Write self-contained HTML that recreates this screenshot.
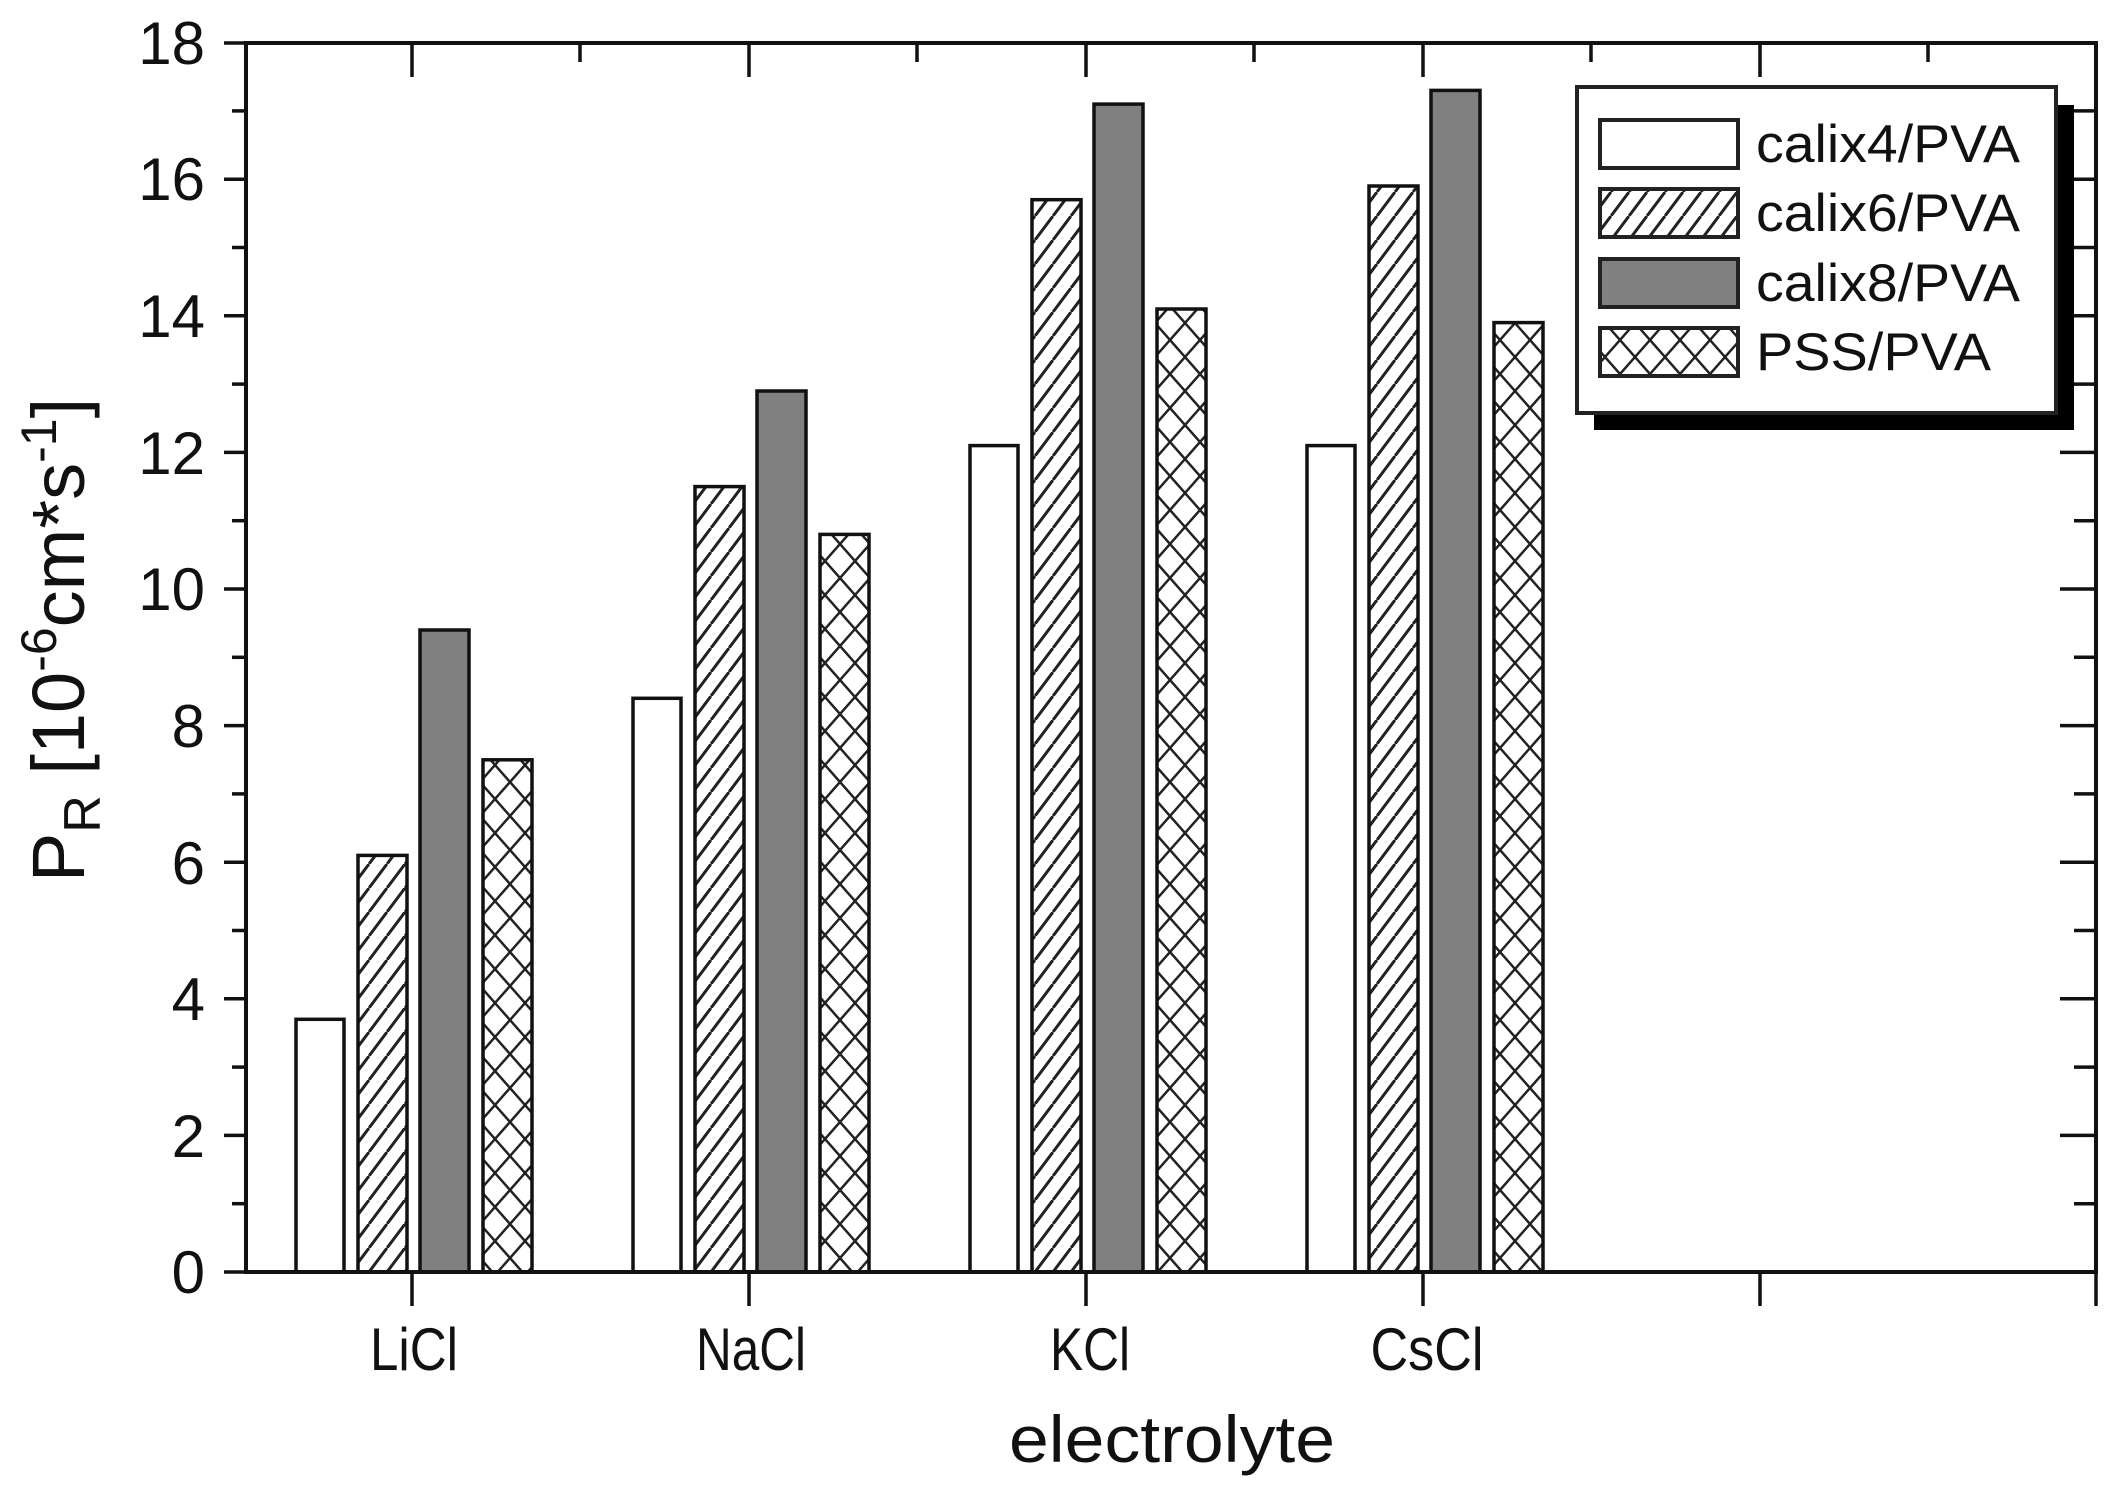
<!DOCTYPE html>
<html><head><meta charset="utf-8"><style>html,body{margin:0;padding:0;background:#fff}svg{display:block}</style></head>
<body>
<svg width="2122" height="1504" viewBox="0 0 2122 1504" xmlns="http://www.w3.org/2000/svg" font-family="Liberation Sans, Arial, sans-serif">
<defs>
<pattern id="hatch2" patternUnits="userSpaceOnUse" width="18" height="24" x="0" y="0">
<rect width="18" height="24" fill="#fff"/>
<line x1="-9" y1="24" x2="9" y2="0" stroke="#222" stroke-width="3"/>
<line x1="9" y1="24" x2="27" y2="0" stroke="#222" stroke-width="3"/>
</pattern>
<pattern id="cross" patternUnits="userSpaceOnUse" width="30" height="34">
<rect width="30" height="34" fill="#fff"/>
<line x1="0" y1="0" x2="30" y2="34" stroke="#222" stroke-width="2.5"/>
<line x1="30" y1="0" x2="0" y2="34" stroke="#222" stroke-width="2.5"/>
</pattern>
</defs>
<g stroke="#111" stroke-width="3.5">
<rect x="296" y="1019.3" width="48" height="252.7" fill="#fff"/>
<rect x="358" y="855.4" width="49" height="416.6" fill="url(#hatch2)"/>
<rect x="420" y="630" width="49" height="642" fill="#808080"/>
<rect x="483" y="759.8" width="49" height="512.2" fill="url(#cross)"/>
<rect x="633" y="698.3" width="48" height="573.7" fill="#fff"/>
<rect x="695" y="486.6" width="49" height="785.4" fill="url(#hatch2)"/>
<rect x="757" y="391" width="49" height="881" fill="#808080"/>
<rect x="820" y="534.4" width="49" height="737.6" fill="url(#cross)"/>
<rect x="970" y="445.6" width="48" height="826.4" fill="#fff"/>
<rect x="1032" y="199.7" width="49" height="1072.3" fill="url(#hatch2)"/>
<rect x="1094" y="104.1" width="49" height="1167.9" fill="#808080"/>
<rect x="1157" y="309" width="49" height="963" fill="url(#cross)"/>
<rect x="1307" y="445.6" width="48" height="826.4" fill="#fff"/>
<rect x="1369" y="186" width="49" height="1086" fill="url(#hatch2)"/>
<rect x="1431" y="90.4" width="49" height="1181.6" fill="#808080"/>
<rect x="1494" y="322.6" width="49" height="949.4" fill="url(#cross)"/>
</g>
<g stroke="#111" stroke-width="4" fill="none">
<rect x="246" y="43" width="1850" height="1229"/>
</g>
<g stroke="#111" stroke-width="3.5">
<line x1="224" y1="1272" x2="246" y2="1272"/><line x1="232" y1="1203.7" x2="246" y2="1203.7"/>
<line x1="224" y1="1135.4" x2="246" y2="1135.4"/><line x1="232" y1="1067.1" x2="246" y2="1067.1"/>
<line x1="224" y1="998.8" x2="246" y2="998.8"/><line x1="232" y1="930.5" x2="246" y2="930.5"/>
<line x1="224" y1="862.2" x2="246" y2="862.2"/><line x1="232" y1="793.9" x2="246" y2="793.9"/>
<line x1="224" y1="725.6" x2="246" y2="725.6"/><line x1="232" y1="657.3" x2="246" y2="657.3"/>
<line x1="224" y1="589" x2="246" y2="589"/><line x1="232" y1="520.7" x2="246" y2="520.7"/>
<line x1="224" y1="452.4" x2="246" y2="452.4"/><line x1="232" y1="384.1" x2="246" y2="384.1"/>
<line x1="224" y1="315.8" x2="246" y2="315.8"/><line x1="232" y1="247.5" x2="246" y2="247.5"/>
<line x1="224" y1="179.2" x2="246" y2="179.2"/><line x1="232" y1="110.9" x2="246" y2="110.9"/>
<line x1="224" y1="43" x2="246" y2="43"/>
<line x1="2074" y1="1203.7" x2="2096" y2="1203.7"/><line x1="2074" y1="1067.1" x2="2096" y2="1067.1"/>
<line x1="2074" y1="930.5" x2="2096" y2="930.5"/><line x1="2074" y1="793.9" x2="2096" y2="793.9"/>
<line x1="2074" y1="657.3" x2="2096" y2="657.3"/><line x1="2074" y1="520.7" x2="2096" y2="520.7"/>
<line x1="2074" y1="384.1" x2="2096" y2="384.1"/><line x1="2074" y1="247.5" x2="2096" y2="247.5"/>
<line x1="2074" y1="110.9" x2="2096" y2="110.9"/>
<line x1="2060" y1="1135.4" x2="2096" y2="1135.4"/><line x1="2060" y1="998.8" x2="2096" y2="998.8"/>
<line x1="2060" y1="862.2" x2="2096" y2="862.2"/><line x1="2060" y1="725.6" x2="2096" y2="725.6"/>
<line x1="2060" y1="589" x2="2096" y2="589"/><line x1="2060" y1="452.4" x2="2096" y2="452.4"/>
<line x1="2060" y1="315.8" x2="2096" y2="315.8"/><line x1="2060" y1="179.2" x2="2096" y2="179.2"/>
<line x1="412" y1="1272" x2="412" y2="1306"/><line x1="749" y1="1272" x2="749" y2="1306"/>
<line x1="1086" y1="1272" x2="1086" y2="1306"/><line x1="1423" y1="1272" x2="1423" y2="1306"/>
<line x1="1760" y1="1272" x2="1760" y2="1306"/><line x1="2096" y1="1272" x2="2096" y2="1306"/>
<line x1="412" y1="43" x2="412" y2="77"/><line x1="580" y1="43" x2="580" y2="62"/>
<line x1="749" y1="43" x2="749" y2="77"/><line x1="917" y1="43" x2="917" y2="62"/>
<line x1="1086" y1="43" x2="1086" y2="77"/><line x1="1254" y1="43" x2="1254" y2="62"/>
<line x1="1423" y1="43" x2="1423" y2="77"/><line x1="1591" y1="43" x2="1591" y2="62"/>
<line x1="1760" y1="43" x2="1760" y2="77"/><line x1="1928" y1="43" x2="1928" y2="62"/>
</g>
<g font-size="60" text-anchor="end" fill="#111">
<text x="205" y="1293">0</text><text x="205" y="1157">2</text><text x="205" y="1020">4</text>
<text x="205" y="884">6</text><text x="205" y="747">8</text><text x="205" y="610">10</text>
<text x="205" y="474">12</text><text x="205" y="337">14</text><text x="205" y="200">16</text>
<text x="205" y="64">18</text>
</g>
<g font-size="60" text-anchor="middle" fill="#111">
<text x="414" y="1370" textLength="88" lengthAdjust="spacingAndGlyphs">LiCl</text>
<text x="751" y="1370" textLength="110" lengthAdjust="spacingAndGlyphs">NaCl</text>
<text x="1090" y="1370" textLength="80" lengthAdjust="spacingAndGlyphs">KCl</text>
<text x="1427" y="1370" textLength="113" lengthAdjust="spacingAndGlyphs">CsCl</text>
</g>
<text x="1172" y="1462" font-size="66" text-anchor="middle" fill="#111" textLength="326" lengthAdjust="spacingAndGlyphs">electrolyte</text>
<text transform="translate(84,640) rotate(-90)" font-size="74" text-anchor="middle" fill="#111">P<tspan font-size="52" dy="16">R</tspan><tspan dy="-16"> [10</tspan><tspan font-size="50" dy="-28">-6</tspan><tspan dy="28">cm*s</tspan><tspan font-size="50" dy="-28">-1</tspan><tspan dy="28">]</tspan></text>
<rect x="1594" y="105" width="480" height="325" fill="#000"/>
<rect x="1577" y="87" width="479" height="326" fill="#fff" stroke="#222" stroke-width="4"/>
<g stroke="#222" stroke-width="4">
<rect x="1600" y="120" width="138" height="48" fill="#fff"/>
<rect x="1600" y="189" width="138" height="48" fill="url(#hatch2)"/>
<rect x="1600" y="259" width="138" height="48" fill="#808080"/>
<rect x="1600" y="328" width="138" height="48" fill="url(#cross)"/>
</g>
<g font-size="53" fill="#111">
<text x="1756" y="162" textLength="264" lengthAdjust="spacingAndGlyphs">calix4/PVA</text>
<text x="1756" y="231" textLength="264" lengthAdjust="spacingAndGlyphs">calix6/PVA</text>
<text x="1756" y="301" textLength="264" lengthAdjust="spacingAndGlyphs">calix8/PVA</text>
<text x="1756" y="370" textLength="235" lengthAdjust="spacingAndGlyphs">PSS/PVA</text>
</g>
</svg>
</body></html>
